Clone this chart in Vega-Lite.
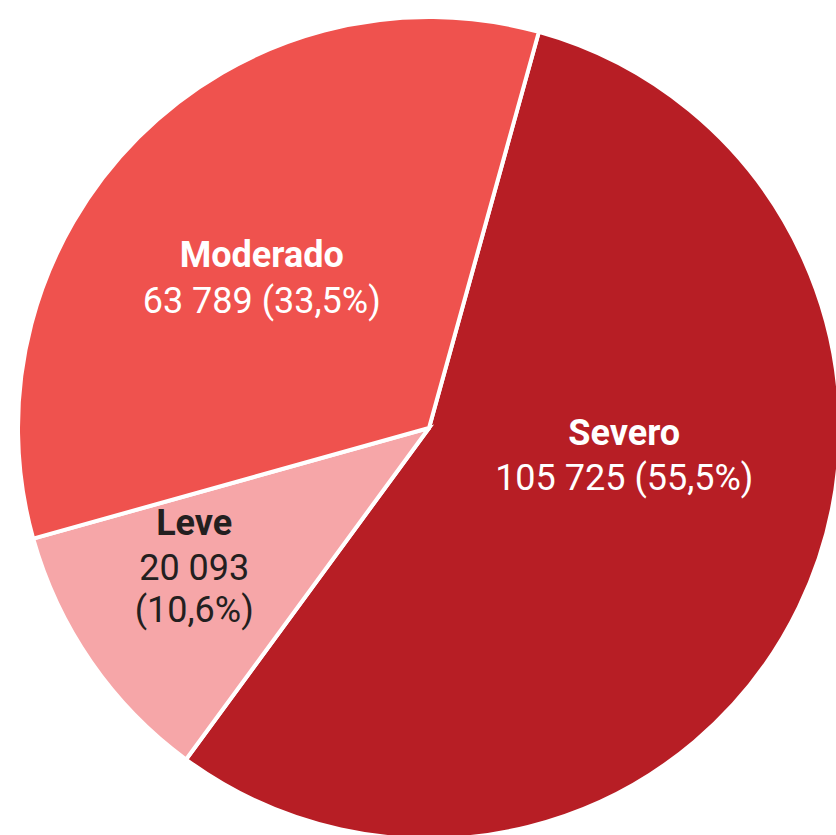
{
  "$schema": "https://vega.github.io/schema/vega-lite/v6.json",
  "width": 814,
  "height": 814,
  "autosize": {"type": "none"},
  "padding": {"left": 22, "top": 21, "right": 0, "bottom": 0},
  "background": "white",
  "view": {"stroke": null},
  "config": {"text": {"font": "Roboto"}},
  "data": {
    "values": [
      {"categoria": "Severo", "casos": 105725, "etiqueta": "105 725 (55,5%)", "orden": 1},
      {"categoria": "Leve", "casos": 20093, "etiqueta": "20 093\n(10,6%)", "orden": 2},
      {"categoria": "Moderado", "casos": 63789, "etiqueta": "63 789 (33,5%)", "orden": 3}
    ]
  },
  "encoding": {
    "theta": {"field": "casos", "type": "quantitative", "stack": true, "scale": {"range": [0.2705, 6.5537]}},
    "order": {"field": "orden", "type": "quantitative"}
  },
  "layer": [
    {
      "mark": {"type": "arc", "radius": 411, "stroke": "white", "strokeWidth": 4},
      "encoding": {
        "color": {"field": "categoria", "type": "nominal", "legend": null,
          "scale": {"domain": ["Severo", "Leve", "Moderado"], "range": ["#B71E25", "#F6A6A8", "#EF524E"]}}
      }
    },
    {
      "mark": {"type": "text", "radius": 196, "thetaOffset": -0.3648, "fontSize": 36, "fontWeight": "bold", "color": "white", "align": "center", "baseline": "alphabetic"},
      "encoding": {"text": {"condition": {"test": "datum.categoria === 'Severo'", "field": "categoria"}, "value": ""}}
    },
    {
      "mark": {"type": "text", "radius": 196, "thetaOffset": -0.3648, "dy": 45, "fontSize": 36, "color": "white", "align": "center", "baseline": "alphabetic"},
      "encoding": {"text": {"condition": {"test": "datum.categoria === 'Severo'", "field": "etiqueta"}, "value": ""}}
    },
    {
      "mark": {"type": "text", "radius": 232, "thetaOffset": -0.0188, "fontSize": 36, "fontWeight": "bold", "color": "white", "align": "center", "baseline": "alphabetic"},
      "encoding": {"text": {"condition": {"test": "datum.categoria === 'Moderado'", "field": "categoria"}, "value": ""}}
    },
    {
      "mark": {"type": "text", "radius": 232, "thetaOffset": -0.0188, "dy": 46, "fontSize": 36, "color": "white", "align": "center", "baseline": "alphabetic"},
      "encoding": {"text": {"condition": {"test": "datum.categoria === 'Moderado'", "field": "etiqueta"}, "value": ""}}
    },
    {
      "mark": {"type": "text", "radius": 258, "thetaOffset": 0.1782, "fontSize": 36, "fontWeight": "bold", "color": "#231F20", "align": "center", "baseline": "alphabetic"},
      "encoding": {"text": {"condition": {"test": "datum.categoria === 'Leve'", "field": "categoria"}, "value": ""}}
    },
    {
      "mark": {"type": "text", "radius": 258, "thetaOffset": 0.1782, "dy": 45, "lineBreak": "\n", "lineHeight": 42, "fontSize": 36, "color": "#231F20", "align": "center", "baseline": "alphabetic"},
      "encoding": {"text": {"condition": {"test": "datum.categoria === 'Leve'", "field": "etiqueta"}, "value": ""}}
    }
  ]
}
